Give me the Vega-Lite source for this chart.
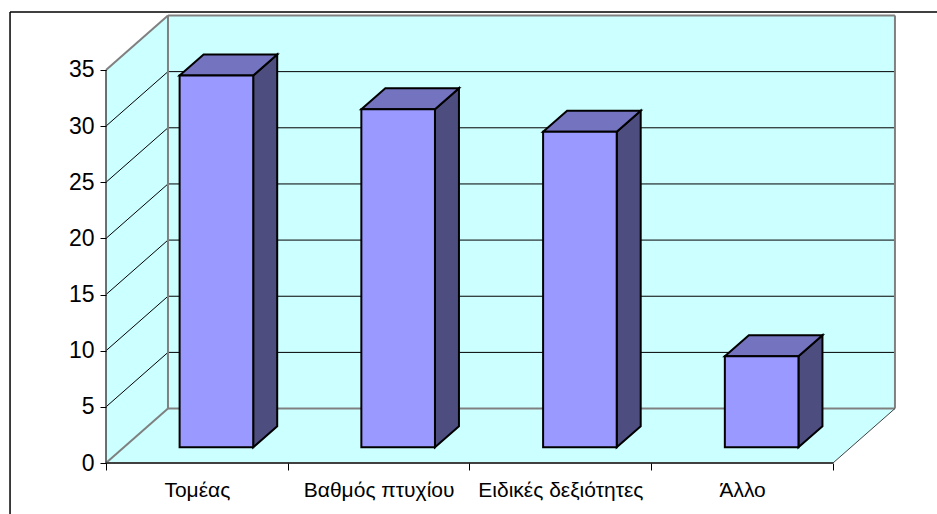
{"$schema":"https://vega.github.io/schema/vega-lite/v6.json","width":831,"height":502,"autosize":{"type":"none"},"padding":{"left":106,"top":12,"right":0,"bottom":0},"background":"white","config":{"view":{"stroke":null}},"datasets":{"bars":[{"category":"Τομέας","value":33.1},{"category":"Βαθμός πτυχίου","value":30.1},{"category":"Ειδικές δεξιότητες","value":28.1},{"category":"Άλλο","value":8.1}],"ticks":[{"v":0},{"v":5},{"v":10},{"v":15},{"v":20},{"v":25},{"v":30},{"v":35}],"span":[{"t":0},{"t":1}],"one":[{"k":1}]},"layer":[{"data":{"name":"one"},"mark":{"type":"rule","stroke":"#000","strokeWidth":1.5},"encoding":{"x":{"datum":-0.528,"type":"quantitative","scale":{"domain":[0,4.5723],"nice":false,"zero":false},"axis":{"values":[0,0.5,1,1.5,2,2.5,3,3.5,4],"grid":false,"domain":false,"title":null,"offset":-51,"zindex":1,"tickSize":7,"tickColor":"#000","tickOpacity":{"condition":{"test":"datum.value%1!==0","value":0},"value":1},"labelFont":"Liberation Sans","labelFontSize":21,"labelColor":"#000","labelPadding":9,"labelOverlap":false,"labelFlush":false,"labelBound":false,"labelExpr":"datum.value==0.5?'Τομέας':datum.value==1.5?'Βαθμός πτυχίου':datum.value==2.5?'Ειδικές δεξιότητες':datum.value==3.5?'Άλλο':''"}},"x2":{"datum":-0.528},"y":{"datum":-4.54,"type":"quantitative","scale":{"domain":[-4.54,40.16],"nice":false,"zero":false},"axis":{"values":[0,5,10,15,20,25,30,35],"grid":false,"domain":false,"title":null,"zindex":1,"tickSize":6,"tickColor":"#000","labelFont":"Liberation Sans","labelFontSize":23,"labelColor":"#000","labelPadding":6}},"y2":{"datum":40.16}}},{"data":{"name":"one"},"mark":{"type":"rule","stroke":"#000","strokeWidth":1.5},"encoding":{"x":{"datum":-0.528,"type":"quantitative"},"x2":{"datum":4.5723},"y":{"datum":40.16,"type":"quantitative"}}},{"data":{"name":"span"},"transform":[{"calculate":"0.341+4*datum.t","as":"px"}],"mark":{"type":"area","fill":"#CCFFFF","orient":"vertical"},"encoding":{"x":{"field":"px","type":"quantitative"},"y":{"datum":4.85,"type":"quantitative"},"y2":{"datum":39.85}}},{"data":{"name":"span"},"transform":[{"calculate":"0.341*datum.t","as":"px"},{"calculate":"4.85*datum.t","as":"lo"},{"calculate":"35+4.85*datum.t","as":"hi"}],"mark":{"type":"area","fill":"#CCFFFF","orient":"vertical"},"encoding":{"x":{"field":"px","type":"quantitative"},"y":{"field":"lo","type":"quantitative"},"y2":{"field":"hi"}}},{"data":{"name":"span"},"transform":[{"calculate":"0.341*datum.t","as":"a"},{"calculate":"4+0.341*datum.t","as":"b"},{"calculate":"4.85*datum.t","as":"py"}],"mark":{"type":"area","fill":"#CCFFFF","orient":"horizontal"},"encoding":{"x":{"field":"a","type":"quantitative"},"x2":{"field":"b"},"y":{"field":"py","type":"quantitative"}}},{"data":{"name":"ticks"},"transform":[{"filter":"datum.v>0&&datum.v<35"},{"calculate":"datum.v+4.85","as":"w"}],"mark":{"type":"rule","stroke":"#000","strokeWidth":1},"encoding":{"x":{"datum":0.341,"type":"quantitative"},"x2":{"datum":4.341},"y":{"field":"w","type":"quantitative"}}},{"data":{"name":"ticks"},"transform":[{"filter":"datum.v>0&&datum.v<35"},{"calculate":"datum.v+4.85","as":"w"}],"mark":{"type":"rule","stroke":"#000","strokeWidth":1},"encoding":{"x":{"datum":0,"type":"quantitative"},"x2":{"datum":0.341},"y":{"field":"v","type":"quantitative"},"y2":{"field":"w"}}},{"data":{"name":"ticks"},"transform":[{"filter":"datum.v==0||datum.v==35"},{"calculate":"datum.v+4.85","as":"w"}],"mark":{"type":"rule","stroke":"#808080","strokeWidth":2},"encoding":{"x":{"datum":0.341,"type":"quantitative"},"x2":{"datum":4.341},"y":{"field":"w","type":"quantitative"}}},{"data":{"name":"ticks"},"transform":[{"filter":"datum.v==0||datum.v==35"},{"calculate":"datum.v+4.85","as":"w"}],"mark":{"type":"rule","stroke":"#808080","strokeWidth":2},"encoding":{"x":{"datum":0,"type":"quantitative"},"x2":{"datum":0.341},"y":{"field":"v","type":"quantitative"},"y2":{"field":"w"}}},{"data":{"name":"one"},"mark":{"type":"rule","stroke":"#808080","strokeWidth":2},"encoding":{"x":{"datum":0.341,"type":"quantitative"},"y":{"datum":4.85,"type":"quantitative"},"y2":{"datum":39.85}}},{"data":{"name":"one"},"mark":{"type":"rule","stroke":"#808080","strokeWidth":2},"encoding":{"x":{"datum":4.341,"type":"quantitative"},"y":{"datum":4.85,"type":"quantitative"},"y2":{"datum":39.85}}},{"data":{"name":"one"},"mark":{"type":"rule","stroke":"#404040","strokeWidth":1},"encoding":{"x":{"datum":4,"type":"quantitative"},"x2":{"datum":4.341},"y":{"datum":0,"type":"quantitative"},"y2":{"datum":4.85}}},{"data":{"name":"one"},"mark":{"type":"rule","stroke":"#404040","strokeWidth":2},"encoding":{"x":{"datum":0,"type":"quantitative"},"x2":{"datum":4},"y":{"datum":0,"type":"quantitative"}}},{"data":{"name":"one"},"mark":{"type":"rule","stroke":"#404040","strokeWidth":1.5},"encoding":{"x":{"datum":0,"type":"quantitative"},"y":{"datum":0,"type":"quantitative"},"y2":{"datum":35}}},{"data":{"name":"bars"},"transform":[{"window":[{"op":"row_number","as":"n"}]},{"calculate":"[0,1]","as":"t"},{"flatten":["t"]},{"calculate":"datum.n-1+0.81+0.132*datum.t","as":"px"},{"calculate":"1.4+1.87*datum.t","as":"lo"},{"calculate":"1.4+datum.value+1.87*datum.t","as":"hi"}],"mark":{"type":"area","orient":"vertical","fill":"#4D4D80","stroke":"#000","strokeWidth":2},"encoding":{"detail":{"field":"category"},"x":{"field":"px","type":"quantitative"},"y":{"field":"lo","type":"quantitative"},"y2":{"field":"hi"}}},{"data":{"name":"bars"},"transform":[{"window":[{"op":"row_number","as":"n"}]},{"calculate":"[0,1]","as":"t"},{"flatten":["t"]},{"calculate":"datum.n-1+0.405+0.132*datum.t","as":"a"},{"calculate":"datum.n-1+0.81+0.132*datum.t","as":"b"},{"calculate":"1.4+datum.value+1.87*datum.t","as":"py"}],"mark":{"type":"area","orient":"horizontal","fill":"#7373BF","stroke":"#000","strokeWidth":2},"encoding":{"detail":{"field":"category"},"x":{"field":"a","type":"quantitative"},"x2":{"field":"b"},"y":{"field":"py","type":"quantitative"}}},{"data":{"name":"bars"},"transform":[{"window":[{"op":"row_number","as":"n"}]},{"calculate":"datum.n-1+0.405","as":"a"},{"calculate":"datum.n-1+0.81","as":"b"},{"calculate":"1.4+datum.value","as":"top"}],"mark":{"type":"rect","fill":"#9999FF","stroke":"#000","strokeWidth":2},"encoding":{"x":{"field":"a","type":"quantitative"},"x2":{"field":"b"},"y":{"field":"top","type":"quantitative"},"y2":{"datum":1.4}}}]}
